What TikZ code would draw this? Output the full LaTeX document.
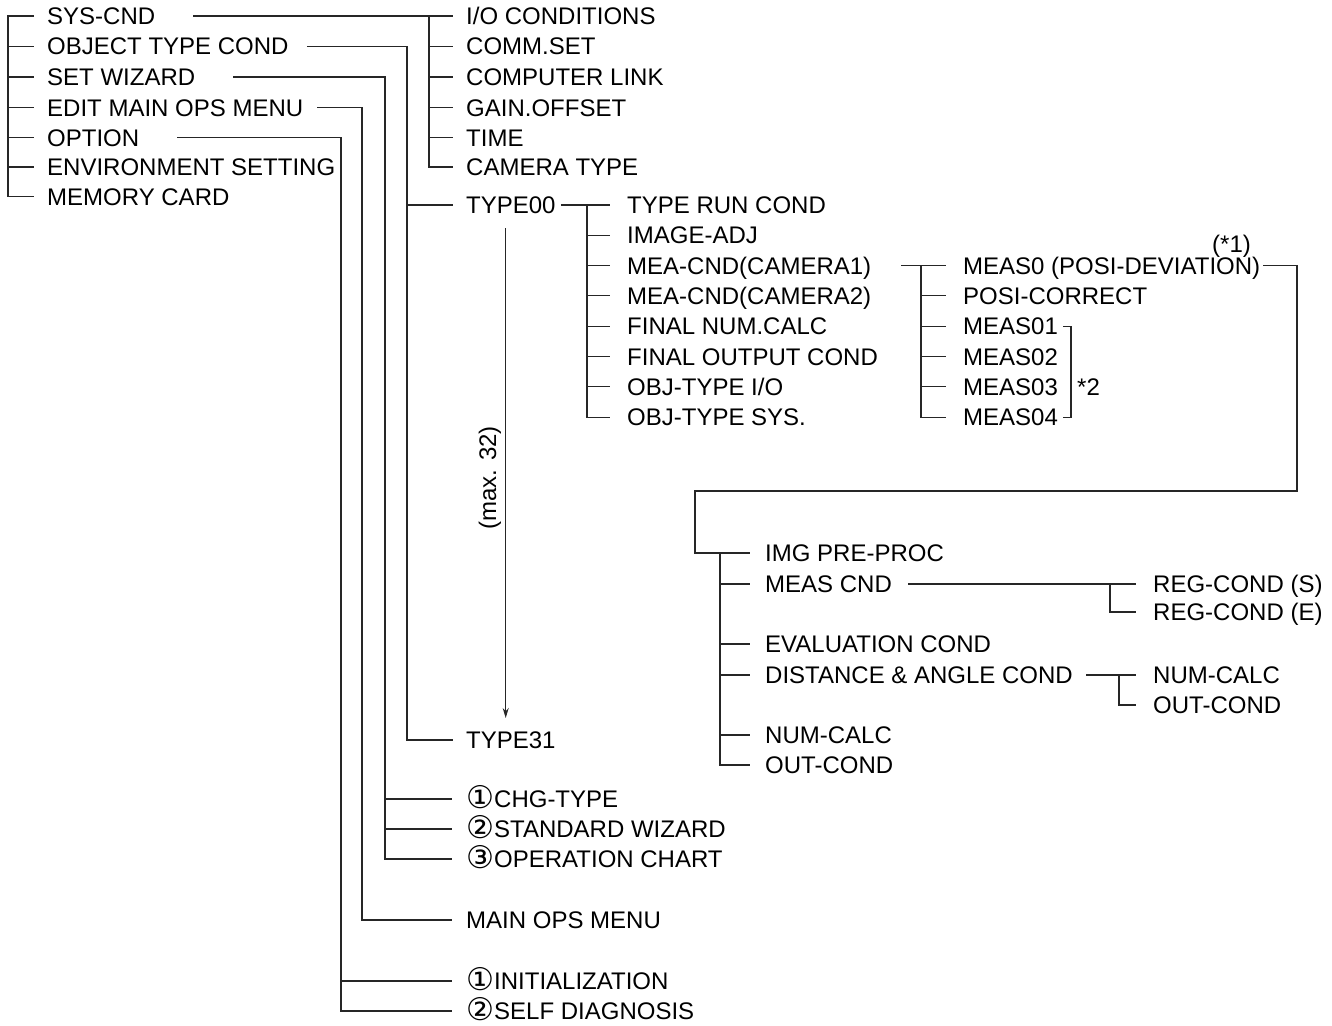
\documentclass[tikz,border=0pt]{standalone}
\usepackage{fontspec}
\setmainfont{Liberation Sans}
\newfontfamily\circfont[Scale=1.3]{DejaVu Sans}
\usetikzlibrary{arrows.meta}
\newcommand{\diagfont}{\fontsize{24}{28}\selectfont}
\newcommand{\cnum}[1]{{\circfont\raisebox{-0.5pt}{#1}}}
\begin{document}
\begin{tikzpicture}[x=1pt,y=-1pt,
  lbl/.style={anchor=west,inner sep=0pt,text height=17pt,text depth=0pt,font=\diagfont},
  ln/.style={line width=1.1pt,draw=black!85}]
\useasboundingbox (0,0) rectangle (1332,1025);
% ---- column A
\node[lbl] (a1) at (47,16) {SYS-CND};
\node[lbl] (a2) at (47,46.5) {OBJECT TYPE COND};
\node[lbl] (a3) at (47,77) {SET WIZARD};
\node[lbl] (a4) at (47,107.5) {EDIT MAIN OPS MENU};
\node[lbl] (a5) at (47,137.5) {OPTION};
\node[lbl] (a6) at (47,167) {ENVIRONMENT SETTING};
\node[lbl] (a7) at (47,196.5) {MEMORY CARD};
\coordinate (ja) at (8,0);
\draw[ln] ([xshift=-13pt]a1.west) -- (ja |- a1.west) -- (ja |- a7.west) -- ([xshift=-13pt]a7.west);
\foreach \n in {a2,a3,a4,a5,a6} \draw[ln] (ja |- \n.west) -- ([xshift=-13pt]\n.west);
% ---- SYS-CND subtree
\node[lbl] (b1) at (466,16) {I/O CONDITIONS};
\node[lbl] (b2) at (466,46.5) {COMM.SET};
\node[lbl] (b3) at (466,77) {COMPUTER LINK};
\node[lbl] (b4) at (466,107.5) {GAIN.OFFSET};
\node[lbl] (b5) at (466,137.5) {TIME};
\node[lbl] (b6) at (466,167) {CAMERA TYPE};
\coordinate (jb) at (429,0);
\draw[ln] ([xshift=38pt]a1.east) -- ([xshift=-13pt]b1.west);
\draw[ln] (jb |- b1.west) -- (jb |- b6.west) -- ([xshift=-13pt]b6.west);
\foreach \n in {b2,b3,b4,b5} \draw[ln] (jb |- \n.west) -- ([xshift=-13pt]\n.west);
% ---- OBJECT TYPE COND subtree
\node[lbl] (t00) at (466,205) {TYPE00};
\node[lbl] (t31) at (466,740) {TYPE31};
\coordinate (jc) at (407,0);
\draw[ln] ([xshift=18pt]a2.east) -- (jc |- a2.east) -- (jc |- t31.west) -- ([xshift=-13pt]t31.west);
\draw[ln] (jc |- t00.west) -- ([xshift=-13pt]t00.west);
\coordinate (ar1) at (505.7,228);
\coordinate (ar2) at (505.7,718);
\draw[ln,-{Stealth[length=10pt,width=6pt]}] (ar1) -- (ar2);
\node[font=\diagfont,rotate=90,inner sep=0pt] (mx) at (490,478) {(max. 32)};
% ---- TYPE00 subtree
\node[lbl] (c1) at (627,205) {TYPE RUN COND};
\node[lbl] (c2) at (627,235.3) {IMAGE-ADJ};
\node[lbl] (c3) at (627,265.6) {MEA-CND(CAMERA1)};
\node[lbl] (c4) at (627,295.9) {MEA-CND(CAMERA2)};
\node[lbl] (c5) at (627,326.2) {FINAL NUM.CALC};
\node[lbl] (c6) at (627,356.5) {FINAL OUTPUT COND};
\node[lbl] (c7) at (627,386.8) {OBJ-TYPE I/O};
\node[lbl] (c8) at (627,417.1) {OBJ-TYPE SYS.};
\coordinate (jd) at (587,0);
\draw[ln] ([xshift=5pt]t00.east) -- ([xshift=-17pt]c1.west);
\draw[ln] (jd |- c1.west) -- (jd |- c8.west) -- ([xshift=-17pt]c8.west);
\foreach \n in {c2,c3,c4,c5,c6,c7} \draw[ln] (jd |- \n.west) -- ([xshift=-17pt]\n.west);
% ---- MEA-CND(CAMERA1) subtree
\node[lbl] (m0) at (963,265.6) {MEAS0 (POSI-DEVIATION)};
\node[lbl] (mp) at (963,295.9) {POSI-CORRECT};
\node[lbl] (m1) at (963,326.2) {MEAS01};
\node[lbl] (m2) at (963,356.5) {MEAS02};
\node[lbl] (m3) at (963,386.8) {MEAS03};
\node[lbl] (m4) at (963,417.1) {MEAS04};
\node[lbl] (s1) at (1212,244) {(*1)};
\coordinate (je) at (921,0);
\draw[ln] ([xshift=30pt]c3.east) -- ([xshift=-17pt]m0.west);
\draw[ln] (je |- m0.west) -- (je |- m4.west) -- ([xshift=-17pt]m4.west);
\foreach \n in {mp,m1,m2,m3} \draw[ln] (je |- \n.west) -- ([xshift=-17pt]\n.west);
\coordinate (brk) at (1071,0);
\draw[ln] ([xshift=5pt]m1.east) -- (brk |- m1.east) -- (brk |- m4.east) -- ([xshift=5pt]m4.east);
\node[lbl] (s2) at (1077,386.8) {*2};
% ---- MEAS0 subtree
\node[lbl] (p1) at (765,553) {IMG PRE-PROC};
\node[lbl] (p2) at (765,584) {MEAS CND};
\node[lbl] (p3) at (765,644) {EVALUATION COND};
\node[lbl] (p4) at (765,675) {DISTANCE \& ANGLE COND};
\node[lbl] (p5) at (765,735) {NUM-CALC};
\node[lbl] (p6) at (765,765) {OUT-COND};
\coordinate (jf) at (1297,491);
\coordinate (jg) at (695,491);
\coordinate (jh) at (720,0);
\draw[ln] ([xshift=3pt]m0.east) -- (jf |- m0.east) -- (jf) -- (jg) |- ([xshift=-15pt]p1.west);
\draw[ln] (jh |- p1.west) -- (jh |- p6.west) -- ([xshift=-15pt]p6.west);
\foreach \n in {p2,p3,p4,p5} \draw[ln] (jh |- \n.west) -- ([xshift=-15pt]\n.west);
% ---- MEAS CND subtree
\node[lbl] (r1) at (1153,584) {REG-COND (S)};
\node[lbl] (r2) at (1153,612) {REG-COND (E)};
\coordinate (ji) at (1110,0);
\draw[ln] ([xshift=16pt]p2.east) -- ([xshift=-17pt]r1.west);
\draw[ln] (ji |- r1.west) -- (ji |- r2.west) -- ([xshift=-17pt]r2.west);
% ---- DISTANCE subtree
\node[lbl] (d1) at (1153,675) {NUM-CALC};
\node[lbl] (d2) at (1153,705) {OUT-COND};
\coordinate (jj) at (1119,0);
\draw[ln] ([xshift=13pt]p4.east) -- ([xshift=-17pt]d1.west);
\draw[ln] (jj |- d1.west) -- (jj |- d2.west) -- ([xshift=-17pt]d2.west);
% ---- SET WIZARD subtree
\node[lbl] (w1) at (466,799) {\cnum{①}CHG-TYPE};
\node[lbl] (w2) at (466,829) {\cnum{②}STANDARD WIZARD};
\node[lbl] (w3) at (466,859) {\cnum{③}OPERATION CHART};
\coordinate (jk) at (385,0);
\draw[ln] ([xshift=38pt]a3.east) -- (jk |- a3.east) -- (jk |- w3.west) -- ([xshift=-14pt]w3.west);
\foreach \n in {w1,w2} \draw[ln] (jk |- \n.west) -- ([xshift=-14pt]\n.west);
% ---- EDIT MAIN OPS MENU subtree
\node[lbl] (e1) at (466,920) {MAIN OPS MENU};
\coordinate (jl) at (362,0);
\draw[ln] ([xshift=14pt]a4.east) -- (jl |- a4.east) -- (jl |- e1.west) -- ([xshift=-14pt]e1.west);
% ---- OPTION subtree
\node[lbl] (o1) at (466,981) {\cnum{①}INITIALIZATION};
\node[lbl] (o2) at (466,1011) {\cnum{②}SELF DIAGNOSIS};
\coordinate (jm) at (341,0);
\draw[ln] ([xshift=38pt]a5.east) -- (jm |- a5.east) -- (jm |- o2.west) -- ([xshift=-14pt]o2.west);
\draw[ln] (jm |- o1.west) -- ([xshift=-14pt]o1.west);
\end{tikzpicture}
\end{document}
